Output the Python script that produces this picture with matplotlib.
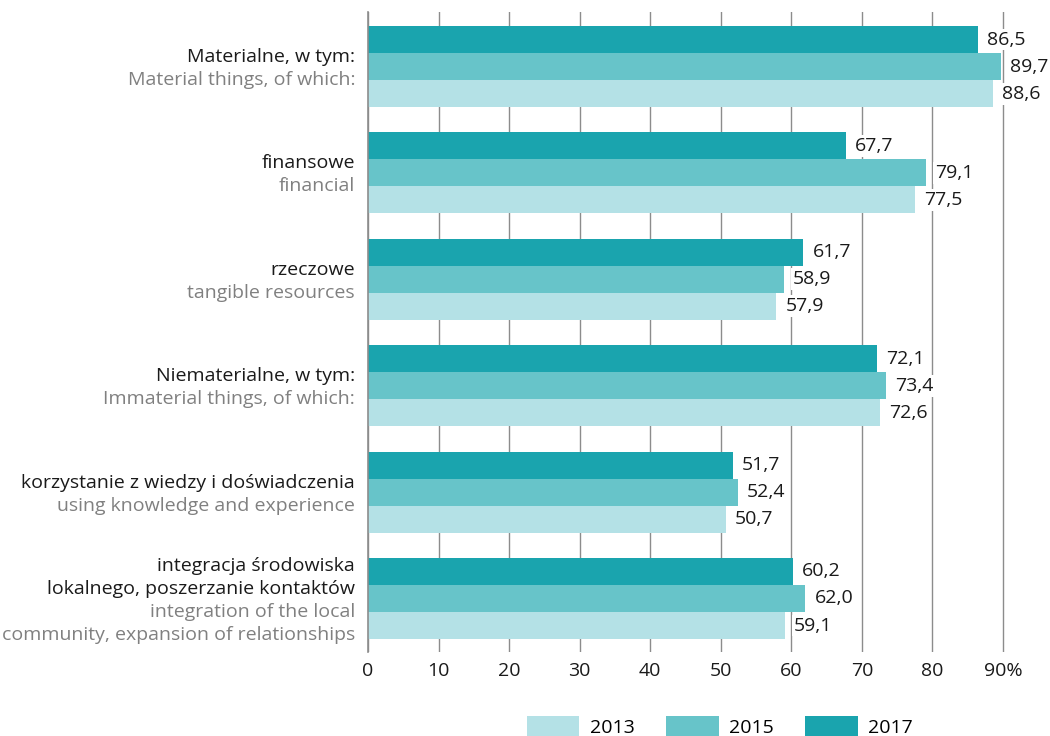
import numpy as np
import matplotlib
matplotlib.use('Agg')
import matplotlib.pyplot as plt
import matplotlib.transforms as mtransforms

plt.rcParams['font.family'] = ['Open Sans', 'DejaVu Sans']

# data
labels_pl = [['Materialne, w tym:'],
             ['finansowe'],
             ['rzeczowe'],
             ['Niematerialne, w tym:'],
             ['korzystanie z wiedzy i doświadczenia'],
             ['integracja środowiska', 'lokalnego, poszerzanie kontaktów']]
labels_en = [['Material things, of which:'],
             ['financial'],
             ['tangible resources'],
             ['Immaterial things, of which:'],
             ['using knowledge and experience'],
             ['integration of the local', 'community, expansion of relationships']]
years = ['2013', '2015', '2017']
v2013 = [88.6, 77.5, 57.9, 72.6, 50.7, 59.1]
v2015 = [89.7, 79.1, 58.9, 73.4, 52.4, 62.0]
v2017 = [86.5, 67.7, 61.7, 72.1, 51.7, 60.2]
xticks = [0, 10, 20, 30, 40, 50, 60, 70, 80, 90]
xticklabels = ['0', '10', '20', '30', '40', '50', '60', '70', '80', '90%']

colors = {'2013': '#b4e1e6', '2015': '#67c4c9', '2017': '#1aa4ae'}

fig = plt.figure(figsize=(10.5, 7.36), dpi=100)
xmax = 90.3
ax = fig.add_axes([368/1050, 1-652/736, xmax*7.055/1050, 640/736])

y = np.arange(len(v2013))
h = 0.254
series = {'2017': v2017, '2015': v2015, '2013': v2013}
offsets = {'2017': -h, '2015': 0, '2013': h}
fs = 14
for yr in years:
    vals = series[yr]
    ax.barh(y + offsets[yr], vals, height=h, color=colors[yr], label=yr, zorder=2)
    for yi, v in zip(y, vals):
        ax.text(v + 1.3, yi + offsets[yr], f'{v:.1f}'.replace('.', ','),
                va='center', ha='left', fontsize=fs, color='#1a1a1a', zorder=4,
                clip_on=False,
                bbox=dict(boxstyle='square,pad=0.1', fc='white', ec='none'))

ax.set_xlim(0, xmax)
ax.set_ylim(5 + 1.5*h + 0.122, -1.5*h - 0.132)
ax.set_xticks(xticks)
ax.set_xticklabels(xticklabels, fontsize=fs, color='#1a1a1a')
ax.set_yticks([])
ax.tick_params(axis='x', length=0, pad=7)
ax.grid(axis='x', color='#8c8c8c', linewidth=1, zorder=1)
for s in ['top', 'right', 'bottom']:
    ax.spines[s].set_visible(False)
ax.spines['left'].set_color('#8c8c8c')
ax.spines['left'].set_linewidth(1.2)

# category labels, one text per line, 23 px apart
trans = mtransforms.blended_transform_factory(ax.transAxes, ax.transData)
pitch = 23
for yi, pl, en in zip(y, labels_pl, labels_en):
    lines = [(t, '#1a1a1a') for t in pl] + [(t, '#808080') for t in en]
    n = len(lines)
    for i, (t, c) in enumerate(lines):
        off = ((n - 1) / 2 - i) * pitch
        ax.annotate(t, xy=(0, yi), xycoords=trans, xytext=(-13, off),
                    textcoords='offset pixels', ha='right', va='center_baseline',
                    fontsize=fs, color=c)

handles, lbls = ax.get_legend_handles_labels()
fig.legend(handles, lbls, loc='center', bbox_to_anchor=(720/1050, 1-727/736),
           ncol=3, frameon=False, fontsize=fs, handlelength=2.7, handleheight=1.4,
           handletextpad=0.55, columnspacing=1.6, borderpad=0, borderaxespad=0)

fig.savefig('out.png', dpi=100)
